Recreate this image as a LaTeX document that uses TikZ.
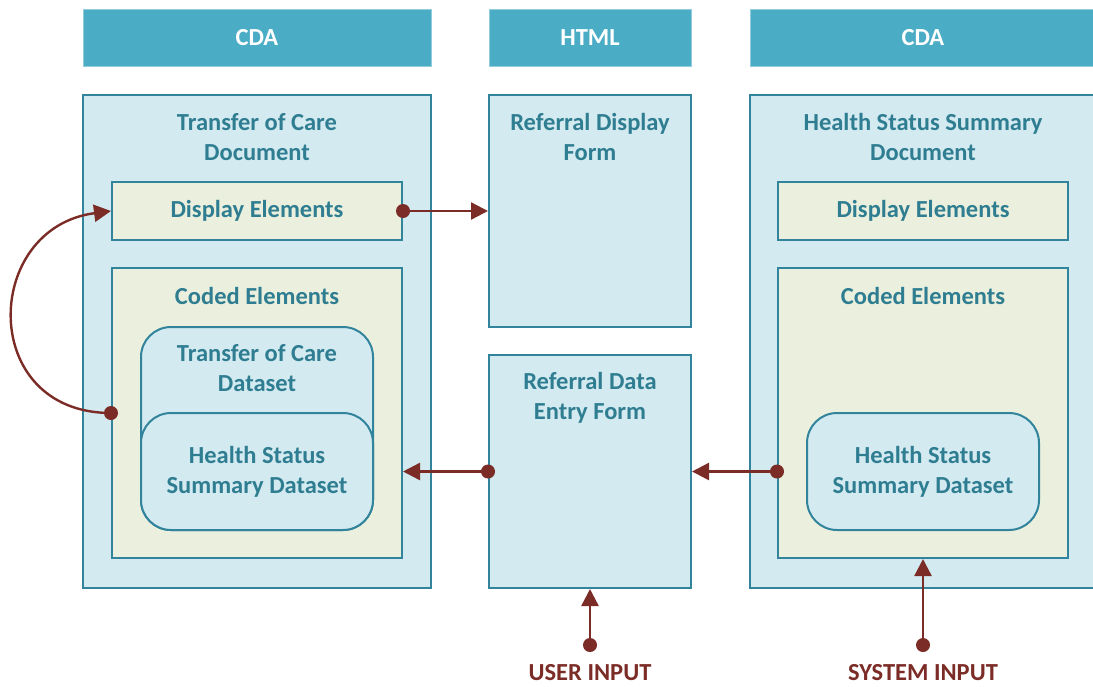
\documentclass[tikz,border=0pt]{standalone}
\usepackage{fontspec}
\setmainfont{Carlito}
\usetikzlibrary{arrows.meta}
\definecolor{hdr}{HTML}{4BACC6}
\definecolor{boxfill}{HTML}{D3EAF1}
\definecolor{grn}{HTML}{EBF0DE}
\definecolor{edge}{HTML}{31849B}
\definecolor{txt}{HTML}{2F7D91}
\definecolor{arr}{HTML}{7B2C26}
\tikzset{
  every node/.style={font=\bfseries\fontsize{24.5}{30}\selectfont, inner sep=0pt},
  header/.style={rectangle, fill=hdr, draw=hdr!60!white, line width=0.6pt, text=white},
  bluebox/.style={rectangle, fill=boxfill, draw=edge, line width=2pt},
  greenbox/.style={rectangle, fill=grn, draw=edge, line width=2pt},
  dataset/.style={rectangle, rounded corners=30pt, fill=boxfill, draw=edge, line width=2pt},
  title/.style={text=txt, align=center},
  conn/.style={draw=arr, line width=2.4pt, -{Triangle[length=17pt,width=17pt]}},
  dot/.style={fill=arr},
  inlabel/.style={text=arr}
}
\begin{document}
\begin{tikzpicture}[x=1pt,y=-1pt]
\useasboundingbox (0,0) rectangle (1093,686);
\clip (0,0) rectangle (1093,686);
% headers
\node[header, minimum width=348pt, minimum height=57pt, text depth=0pt] (hL) at (257,37.5) {CDA};
\node[header, minimum width=202pt, minimum height=57pt, text depth=0pt] (hM) at (590,37.5) {HTML};
\node[header, minimum width=346pt, minimum height=57pt, text depth=0pt] (hR) at (923,37.5) {CDA};
% left column
\node[bluebox, minimum width=348pt, minimum height=493pt] (L) at (257,341.5) {};
\node[title] (Lt) at (257,137) {Transfer of Care\\Document};
\node[greenbox, minimum width=290pt, minimum height=58pt, text=txt] (dispL) at (257,211) {Display Elements};
\node[greenbox, minimum width=290pt, minimum height=290pt] (codedL) at (257,413) {};
\node[title] (codedLt) at (257,296) {Coded Elements};
\node[dataset, minimum width=232pt, minimum height=203pt] (tocD) at (257,428.5) {};
\node[title] (tocDt) at (257,368) {Transfer of Care\\Dataset};
\node[dataset, minimum width=232pt, minimum height=117pt, text=txt, align=center] (hssL) at (257,471.5) {Health Status\\Summary Dataset};
% middle column
\node[bluebox, minimum width=202pt, minimum height=232pt] (midtop) at (590,211) {};
\node[title] (midtopt) at (590,137) {Referral Display\\Form};
\node[bluebox, minimum width=202pt, minimum height=233pt] (midbot) at (590,471.5) {};
\node[title] (midbott) at (590,398) {Referral Data\\Entry Form};
% right column
\node[bluebox, minimum width=346pt, minimum height=493pt] (R) at (923,341.5) {};
\node[title] (Rt) at (923,137) {Health Status Summary\\Document};
\node[greenbox, minimum width=290pt, minimum height=58pt, text=txt] (dispR) at (923,211) {Display Elements};
\node[greenbox, minimum width=290pt, minimum height=290pt] (codedR) at (923,413) {};
\node[title] (codedRt) at (923,296) {Coded Elements};
\node[dataset, minimum width=232pt, minimum height=117pt, text=txt, align=center] (hssR) at (923,471.5) {Health Status\\Summary Dataset};
% inputs
\node[inlabel] (uiL) at (590,673) {USER INPUT};
\node[inlabel] (siL) at (923,673) {SYSTEM INPUT};
\coordinate (ui) at (590,645);
\coordinate (si) at (923,645);
\coordinate (rin) at (codedR.west |- midbot.east);
\coordinate (lin) at (codedL.east |- midbot.west);
% connectors
\draw[conn] (dispL.east) -- (midtop.west);
\draw[conn] (midbot.west) -- (lin);
\draw[conn] (rin) -- (midbot.east);
\draw[conn] (ui) -- (midbot.south);
\draw[conn] (si) -- (codedR.south);
\draw[conn] (codedL.west) .. controls (-22,413) and (-18,228) .. (dispL.west);
% dots
\fill[dot] (dispL.east) circle[radius=7pt];
\fill[dot] (midbot.west) circle[radius=7pt];
\fill[dot] (rin) circle[radius=7pt];
\fill[dot] (ui) circle[radius=7pt];
\fill[dot] (si) circle[radius=7pt];
\fill[dot] (codedL.west) circle[radius=7pt];
\end{tikzpicture}
\end{document}
